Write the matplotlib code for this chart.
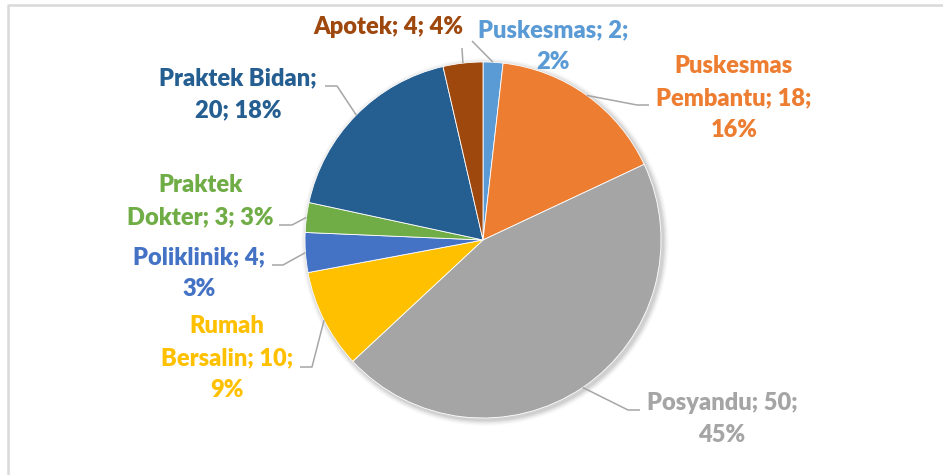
import matplotlib
matplotlib.use("Agg")
import matplotlib.pyplot as plt
from matplotlib.patches import Circle
import numpy as np

categories = ["Puskesmas", "Puskesmas Pembantu", "Posyandu", "Rumah Bersalin",
              "Poliklinik", "Praktek Dokter", "Praktek Bidan", "Apotek"]
values = [2, 18, 50, 10, 4, 3, 20, 4]
pct_labels = ["2%", "16%", "45%", "9%", "3%", "3%", "18%", "4%"]
label_texts = ["Puskesmas; 2;\n2%",
               "Puskesmas\nPembantu; 18;\n16%",
               "Posyandu; 50;\n45%",
               "Rumah\nBersalin; 10;\n9%",
               "Poliklinik; 4;\n3%",
               "Praktek\nDokter; 3; 3%",
               "Praktek Bidan;\n20; 18%",
               "Apotek; 4; 4%"]
colors = ["#5B9BD5", "#ED7D31", "#A5A5A5", "#FFC000",
          "#4472C4", "#70AD47", "#255E91", "#9E480E"]

W, H = 943, 475
fig = plt.figure(figsize=(W / 100, H / 100), dpi=100)
ax = fig.add_axes([0, 0, 1, 1])
ax.set_xlim(0, W)
ax.set_ylim(0, H)
ax.set_aspect("equal")
ax.axis("off")

cx, cy, R = 483, H - 240, 178

# soft shadow
for i, a in enumerate([0.05, 0.05, 0.04, 0.03, 0.02]):
    ax.add_patch(Circle((cx + 2, cy - 2), R + 1 + i * 1.2, color="black",
                        alpha=a, lw=0, zorder=1))

wedges, _ = ax.pie(values, colors=colors, startangle=90, counterclock=False,
                   center=(cx, cy), radius=R, frame=True,
                   wedgeprops=dict(linewidth=0.6, edgecolor="white", zorder=2))
ax.set_xlim(0, W)
ax.set_ylim(0, H)
ax.axis("off")

# label layout (pixel coords, y from top): text center, elbow points
label_pos = [(553, 46), (734, 98), (722, 419), (227, 358),
             (199, 273), (200, 201), (238, 94), (388, 27)]
elbows = [[(472, 41)],
          [(637, 105), (649, 105)],
          [(628, 410), (640, 410)],
          [(312, 367), (300, 367)],
          [(283, 265), (272, 265)],
          [(292, 225), (279, 225)],
          [(337, 86), (325, 86)],
          [(462, 48)]]

for w, txt, col, (lx, ly), el in zip(wedges, label_texts, colors, label_pos, elbows):
    mid = np.deg2rad((w.theta1 + w.theta2) / 2)
    sx = cx + R * np.cos(mid)
    sy = cy + R * np.sin(mid)
    xs = [sx] + [p[0] for p in el]
    ys = [sy] + [H - p[1] for p in el]
    ax.plot(xs, ys, color="#A6A6A6", lw=1.1, zorder=3, solid_capstyle="butt")
    ax.text(lx, H - ly, txt, color=col, ha="center", va="center",
            fontsize=17, fontweight="heavy", family=["Lato", "DejaVu Sans"],
            linespacing=1.55, zorder=4)

# chart area border (top & left visible)
ax.plot([8, 8, W + 5], [-5, H - 5, H - 5], color="#D9D9D9", lw=1.8,
        zorder=5, clip_on=False)

fig.savefig("out.png", dpi=100)
